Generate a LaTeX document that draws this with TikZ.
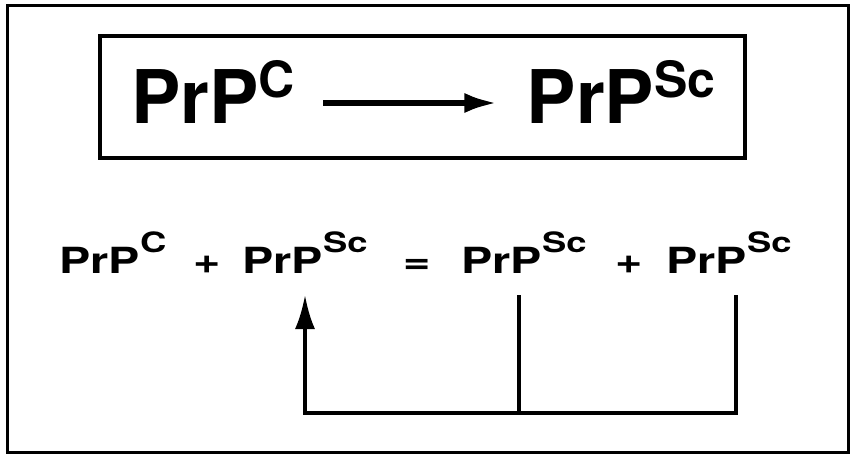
\documentclass[tikz,border=0pt]{standalone}
\usepackage{fontspec}
\setmainfont{TeX Gyre Heros}
\usetikzlibrary{arrows.meta}

\newcommand{\bigprp}[1]{PrP\raisebox{26pt}{\fontsize{50}{50}\selectfont #1}}
\newcommand{\smallprp}[1]{\scalebox{1.3}[1]{PrP\raisebox{21pt}{\fontsize{28}{28}\selectfont #1}}}
\newcommand{\wide}[1]{\scalebox{1.3}[1]{#1}}

\begin{document}
\begin{tikzpicture}[x=1pt,y=1pt,
  big/.style={font=\fontsize{74}{74}\selectfont\bfseries,inner sep=0pt,anchor=base},
  small/.style={font=\fontsize{36}{36}\selectfont\bfseries,inner sep=0pt,anchor=base},
  feed/.style={line width=3.7pt}]

\useasboundingbox (0,0) rectangle (858,459);
\draw[line width=3pt] (7,7) rectangle (848,453);

% conversion in the box
\draw[line width=4pt] (100,301) rectangle (745,423);
\node[big] (pc) at (213,336) {\bigprp{C}};
\node[big] (psc) at (621,336) {\bigprp{Sc}};
\draw[line width=6pt,-{Latex[length=33pt,width=20pt]}] ([shift={(28pt,20pt)}]pc.base east) -- ([shift={(-29pt,20pt)}]psc.base west);

% the reaction
\node[small] (a) at (113,186) {\smallprp{C}};
\node[small] (plus1) at (207,186) {\wide{+}};
\node[small] (b) at (305,186) {\smallprp{Sc}};
\node[small] (eq) at (417,186) {\wide{=}};
\node[small] (c) at (524,186) {\smallprp{Sc}};
\node[small] (plus2) at (629,186) {\wide{+}};
\node[small] (d) at (729,186) {\smallprp{Sc}};

\coordinate (loop) at (0,46);
\coordinate (cb) at ([shift={(-5pt,-22pt)}]c.base);
\coordinate (db) at ([shift={(7pt,-22pt)}]d.base);
\draw[feed,-{Latex[length=34pt,width=20pt]}] (db) -- (db |- loop) -- (b.base |- loop) -- ([yshift=-22pt]b.base);
\draw[feed] (cb) -- (cb |- loop);

\end{tikzpicture}
\end{document}
